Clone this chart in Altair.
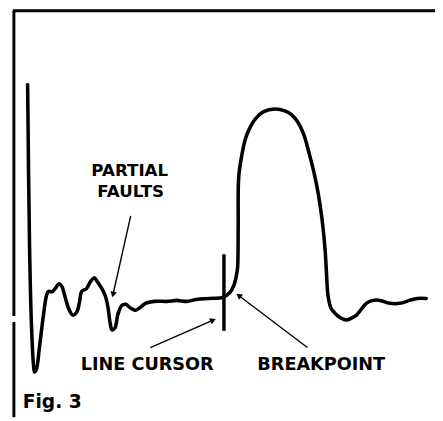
import math
import altair as alt
import pandas as pd

# ---- data (time axis t, signal level v; arbitrary units) ----
trace_t = [28, 30, 32, 34, 35, 37, 40, 44, 47, 49, 53, 56, 60, 63, 66, 70, 74, 78, 81, 83,
           88, 92, 96, 99, 103, 107, 110, 112, 114, 117, 120, 124, 128, 133, 138, 143, 148,
           157, 170, 180, 190, 200, 213, 227, 234, 238, 241, 242, 242.5, 243, 246, 250, 255,
           260, 268, 280, 290, 297, 303, 309, 315, 320, 324, 328, 331, 332.5, 334, 337, 341,
           347, 353, 358, 363, 368, 373, 380, 387, 397, 407, 417, 425, 434]
trace_v = [339, 171, 91, 53, 46, 49, 71, 103, 123, 128, 128, 131, 136, 133, 123, 110, 104, 107, 118, 128,
           131, 138, 142, 138, 132, 124, 111, 96, 89, 91, 105, 114, 115, 111, 109, 112, 116,
           118, 118, 119, 118, 120, 121, 122, 127, 134, 146, 154, 194, 244, 266, 284, 296,
           304, 311, 314, 312, 308, 301, 289, 268, 248, 228, 201, 171, 146, 124, 111, 106,
           101, 99, 101, 104, 110, 116, 119, 119, 116, 116, 119, 121, 121]

cursor_t = [228]
cursor_v = [166]
cursor_v2 = [88]

frame_t = [13, 14, 14]
frame_t2 = [443, 14, 14]
frame_v = [414, 414, 97]
frame_v2 = [414, 103, 0]

arrow_names = ["partial", "cursor", "breakpoint"]
arrow_t = [133, 153, 313]
arrow_v = [205, 71, 71]
arrow_t2 = [115, 217, 243]
arrow_v2 = [125, 99, 124]

label_text = ["PARTIAL", "FAULTS", "LINE CURSOR", "BREAKPOINT", "Fig. 3"]
label_t = [132, 133, 82, 262, 23]
label_v = [246, 224, 48, 48, 9]
label_align = ["center", "center", "left", "left", "left"]

# ---- tables ----
trace = pd.DataFrame({"t": trace_t, "v": trace_v, "order": range(len(trace_t))})
cursor = pd.DataFrame({"t": cursor_t, "v": cursor_v, "v2": cursor_v2})
frame = pd.DataFrame({"t": frame_t, "t2": frame_t2, "v": frame_v, "v2": frame_v2})
arrows = pd.DataFrame({"name": arrow_names, "t": arrow_t, "v": arrow_v,
                       "t2": arrow_t2, "v2": arrow_v2})
arrows["angle"] = [
    (math.degrees(math.atan2(t2 - t1, v2 - v1)) + 360) % 360
    for t1, v1, t2, v2 in zip(arrow_t, arrow_v, arrow_t2, arrow_v2)
]
labels = pd.DataFrame({"text": label_text, "t": label_t, "v": label_v, "align": label_align})

X = alt.Scale(domain=[8, 443], nice=False, zero=False)
Y = alt.Scale(domain=[0, 413], nice=False, zero=False)
xa = dict(scale=X, axis=None)
ya = dict(scale=Y, axis=None)

frame_layer = alt.Chart(frame).mark_rule(color="black", strokeWidth=3, clip=False).encode(
    x=alt.X("t:Q", **xa), x2="t2:Q", y=alt.Y("v:Q", **ya), y2="v2:Q")

trace_layer = alt.Chart(trace).mark_line(
    color="black", strokeWidth=3.6, interpolate="catmull-rom",
    strokeJoin="round", strokeCap="round", clip=False
).encode(x=alt.X("t:Q", **xa), y=alt.Y("v:Q", **ya), order="order:Q")

cursor_layer = alt.Chart(cursor).mark_rule(color="black", strokeWidth=3.5).encode(
    x=alt.X("t:Q", **xa), y=alt.Y("v:Q", **ya), y2="v2:Q")

arrow_layer = alt.Chart(arrows).mark_rule(color="black", strokeWidth=1.4).encode(
    x=alt.X("t:Q", **xa), x2="t2:Q", y=alt.Y("v:Q", **ya), y2="v2:Q")

head_layer = alt.Chart(arrows).mark_point(
    shape="triangle-up", filled=True, color="black", size=45, opacity=1
).encode(x=alt.X("t2:Q", **xa), y=alt.Y("v2:Q", **ya), angle=alt.Angle("angle:Q", scale=None))

text_common = dict(font="DejaVu Sans", fontWeight="bold", color="black", baseline="alphabetic")
text_center = alt.Chart(labels).transform_filter(alt.datum.align == "center").mark_text(
    align="center", fontSize=17, **text_common).encode(
    x=alt.X("t:Q", **xa), y=alt.Y("v:Q", **ya), text="text:N")
text_left = alt.Chart(labels).transform_filter(
    (alt.datum.align == "left") & (alt.datum.text != "Fig. 3")).mark_text(
    align="left", fontSize=18, **text_common).encode(
    x=alt.X("t:Q", **xa), y=alt.Y("v:Q", **ya), text="text:N")
text_fig = alt.Chart(labels).transform_filter(alt.datum.text == "Fig. 3").mark_text(
    align="left", fontSize=19, **text_common).encode(
    x=alt.X("t:Q", **xa), y=alt.Y("v:Q", **ya), text="text:N")

chart = alt.layer(frame_layer, trace_layer, cursor_layer, arrow_layer, head_layer,
                  text_center, text_left, text_fig).properties(
    width=435, height=413, padding=0,
    autosize=alt.AutoSizeParams(type="none"),
    background="white"
).configure_view(stroke=None)

chart.save("out.html", embed_options={"renderer": "svg", "actions": False})
